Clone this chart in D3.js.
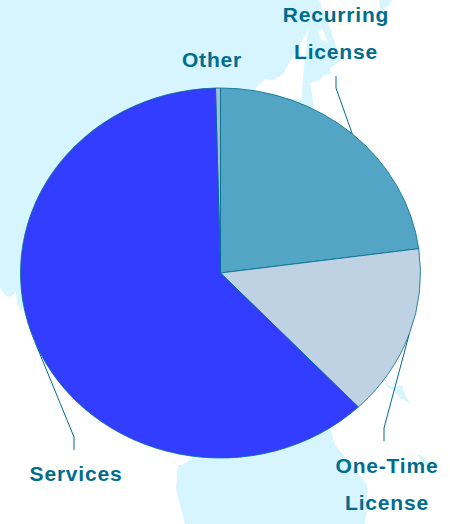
<!DOCTYPE html>
<html><head><meta charset="utf-8">
<style>html,body{margin:0;padding:0;background:#fff}svg{display:block}
text{font-family:"Liberation Sans",Arial,sans-serif;font-weight:bold;font-size:21px;fill:#006c8e;text-anchor:middle;letter-spacing:0.8px}</style>
<script src="https://cdn.jsdelivr.net/npm/d3@7/dist/d3.min.js"></script>
</head><body><div id="c"></div>
<script>
const categories = ["Other","Recurring License","One-Time License","Services"];
const values = [0.4,22.9,15.0,61.7];
const colors = ["#a3bcd2","#52a5c4","#bfd2e3","#333dff"];

// Decorative background map outlines
const mainland = [[0,0],[319,0],[328,23],[335,43],[342,60],[330,68],[331,74],[323,75],[320,80],[310,83],[312,95],[314,108],[220,273],[24,310],[20,310],[17,303],[16,292],[10,297],[5,295],[0,288]];
const strait = [[312,5],[308,30],[293,57],[282,75],[273,80],[265,79],[257,87],[250,95],[302,100],[303,77],[308,30]];
const lake = [[318,33],[322,28],[328,43],[322,40]];
const northIsland = [[379,0],[392,0],[388,6],[382,12],[380,8]];
const southLand = [[192,459],[182,465],[178,465],[176,489],[185,524],[365,524],[367,509],[367,485],[355,469],[335,445],[331,430],[220,273]];
const reefA = [[385,383],[393,387],[402,385],[405,395],[411,404],[400,398],[393,390],[387,387]];
const reefB = [[417,454],[424,457],[432,466],[424,464]];
const landShapes = [mainland,northIsland,southLand,reefA,reefB];

const W=450,H=524,cx=220.5,cy=273,R=200,yScale=0.925;
const svg=d3.select("#c").append("svg").attr("width",W).attr("height",H);
const poly=d3.line().curve(d3.curveLinearClosed);
svg.selectAll("path.land").data(landShapes).join("path").attr("class","land").attr("d",poly).attr("fill","#d6f5ff");
svg.selectAll("path.sea").data([strait,lake]).join("path").attr("class","sea").attr("d",poly).attr("fill","#fff");

const total=d3.sum(values);
const start=-values[0]/total*2*Math.PI;
const pie=d3.pie().sort(null).startAngle(start).endAngle(start+2*Math.PI);
const arcs=pie(values);
const arc=d3.arc().innerRadius(0).outerRadius(R);
const g=svg.append("g").attr("transform",`translate(${cx},${cy}) scale(1,${yScale})`);
g.selectAll("path").data(arcs).join("path").attr("d",arc)
  .attr("fill",(d,i)=>colors[i]).attr("stroke","#006c8e").attr("stroke-width",0.8)
  .attr("vector-effect","non-scaling-stroke");

// leader lines: from the slice's mid angle on the rim to an elbow, then to the label
const leaders=[null,{elbow:[336,88],end:[336,76]},{elbow:[384,428],end:[384,441]},{elbow:[74,437],end:[74,450]}];
const rim=d=>{const a=(d.startAngle+d.endAngle)/2;return [cx+R*Math.sin(a),cy-R*Math.cos(a)*yScale];};
const lead=d3.line();
svg.selectAll("path.leader").data(arcs.filter((d,i)=>leaders[i])).join("path").attr("class","leader")
  .attr("d",d=>{const l=leaders[d.index];return lead([rim(d),l.elbow,l.end]);})
  .attr("fill","none").attr("stroke","#006c8e").attr("stroke-width",1);

const labelLines=[["Other"],["Recurring","License"],["One-Time","License"],["Services"]];
const labelPos=[[212,[67]],[336,[22,59]],[387,[473,510]],[76,[481]]];
labelLines.forEach((lines,i)=>{
  lines.forEach((t,j)=>svg.append("text").attr("x",labelPos[i][0]).attr("y",labelPos[i][1][j]).text(t));
});
</script></body></html>
